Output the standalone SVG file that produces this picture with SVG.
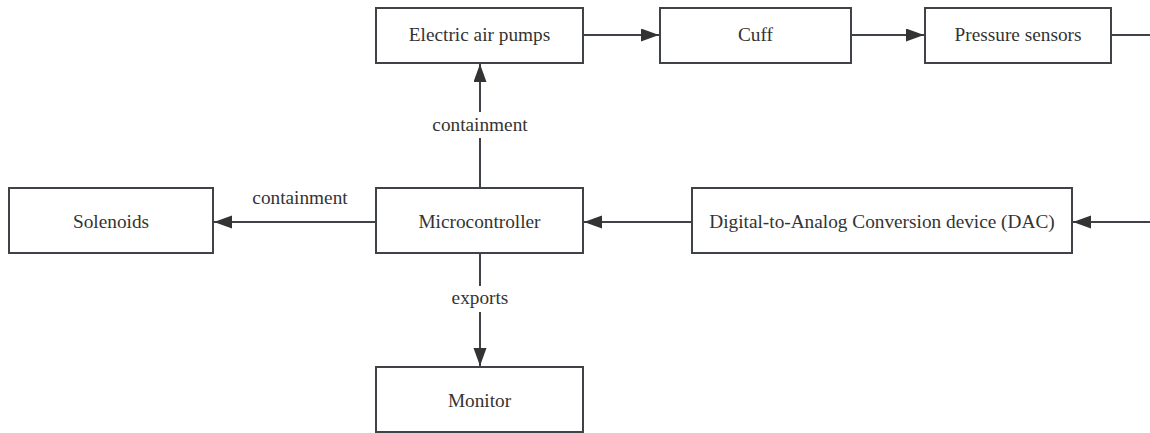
<svg xmlns="http://www.w3.org/2000/svg" width="1150" height="433" viewBox="0 0 1150 433">
  <style>
    .box { fill: #ffffff; stroke: #3f4347; stroke-width: 2; }
    .lbl { font-family: 'Liberation Serif', 'Times New Roman', Times, serif; font-size: 19.3px; fill: #333333; text-anchor: middle; }
    .edge { fill: none; stroke: #3f4347; stroke-width: 2; }
    .edgebg { fill: #ffffff; }
  </style>
  <defs>
    <marker id="arrow" markerUnits="userSpaceOnUse" markerWidth="20" markerHeight="14" refX="18" refY="6.5" orient="auto">
      <path d="M0,0 L18,6.5 L0,13 Z" fill="#333333"/>
    </marker>
  </defs>

  <rect width="1150" height="433" fill="#ffffff"/>

  <!-- connectors -->
  <g id="connectors" font-family="Liberation Serif">
    <path class="edge" d="M583,35 H659" marker-end="url(#arrow)"/>
    <path class="edge" d="M851,35 H924" marker-end="url(#arrow)"/>
    <path class="edge" d="M1111,35 H1150"/>
    <path class="edge" d="M1150,222 H1073" marker-end="url(#arrow)"/>
    <path class="edge" d="M692,222 H584" marker-end="url(#arrow)"/>
    <path class="edge" d="M376,222 H214" marker-end="url(#arrow)"/>
    <path class="edge" d="M480,188 V64" marker-end="url(#arrow)"/>
    <path class="edge" d="M480,253 V366" marker-end="url(#arrow)"/>

    <rect class="edgebg" x="432" y="112" width="96" height="26"/>
    <text class="lbl" x="480" y="131">containment</text>

    <rect class="edgebg" x="251" y="186" width="97" height="24"/>
    <text class="lbl" x="300" y="204">containment</text>

    <rect class="edgebg" x="451" y="286" width="58" height="26"/>
    <text class="lbl" x="480" y="304">exports</text>
  </g>

  <!-- nodes -->
  <g id="electric-air-pumps">
    <rect class="box" x="376" y="8" width="207" height="55"/>
    <text class="lbl" x="479.5" y="41">Electric air pumps</text>
  </g>
  <g id="cuff">
    <rect class="box" x="660" y="8" width="191" height="55"/>
    <text class="lbl" x="755.5" y="41">Cuff</text>
  </g>
  <g id="pressure-sensors">
    <rect class="box" x="925" y="8" width="186" height="55"/>
    <text class="lbl" x="1018" y="41">Pressure sensors</text>
  </g>
  <g id="solenoids">
    <rect class="box" x="9" y="188" width="204" height="65"/>
    <text class="lbl" x="111" y="228">Solenoids</text>
  </g>
  <g id="microcontroller">
    <rect class="box" x="376" y="188" width="207" height="65"/>
    <text class="lbl" x="479.5" y="228">Microcontroller</text>
  </g>
  <g id="dac">
    <rect class="box" x="692" y="188" width="380" height="65"/>
    <text class="lbl" x="882" y="228">Digital-to-Analog Conversion device (DAC)</text>
  </g>
  <g id="monitor">
    <rect class="box" x="376" y="367" width="207" height="65"/>
    <text class="lbl" x="479.5" y="407">Monitor</text>
  </g>
</svg>
